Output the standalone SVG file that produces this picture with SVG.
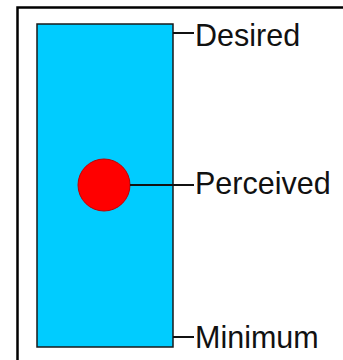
<svg xmlns="http://www.w3.org/2000/svg" width="343" height="360" viewBox="0 0 343 360">
<style>
.lbl{font-family:"Liberation Sans",Arial,sans-serif;font-size:30.5px;fill:#111}
.conn line{stroke:#111;stroke-width:2}
</style>
<rect width="343" height="360" fill="#fff"/>
<rect id="frame" x="17.5" y="7.5" width="340" height="360" fill="none" stroke="#000" stroke-width="2.5"/>
<g id="bar"><rect x="37" y="24" width="136" height="323" fill="#00CCFF" stroke="#1a1a1a" stroke-width="1.5"/></g>
<g id="dot"><circle cx="104" cy="185" r="26" fill="#FF0000" stroke="#c00000" stroke-width="1"/></g>
<g class="conn" id="connectors">
<line x1="173" y1="33" x2="194" y2="33"/>
<line x1="130" y1="185" x2="194" y2="185"/>
<line x1="173" y1="337" x2="194" y2="337"/>
</g>
<g id="desired"><text class="lbl" x="195" y="45.5">Desired</text></g>
<g id="perceived"><text class="lbl" x="195" y="193.5">Perceived</text></g>
<g id="minimum"><text class="lbl" x="195" y="347.5">Minimum</text></g>
</svg>
